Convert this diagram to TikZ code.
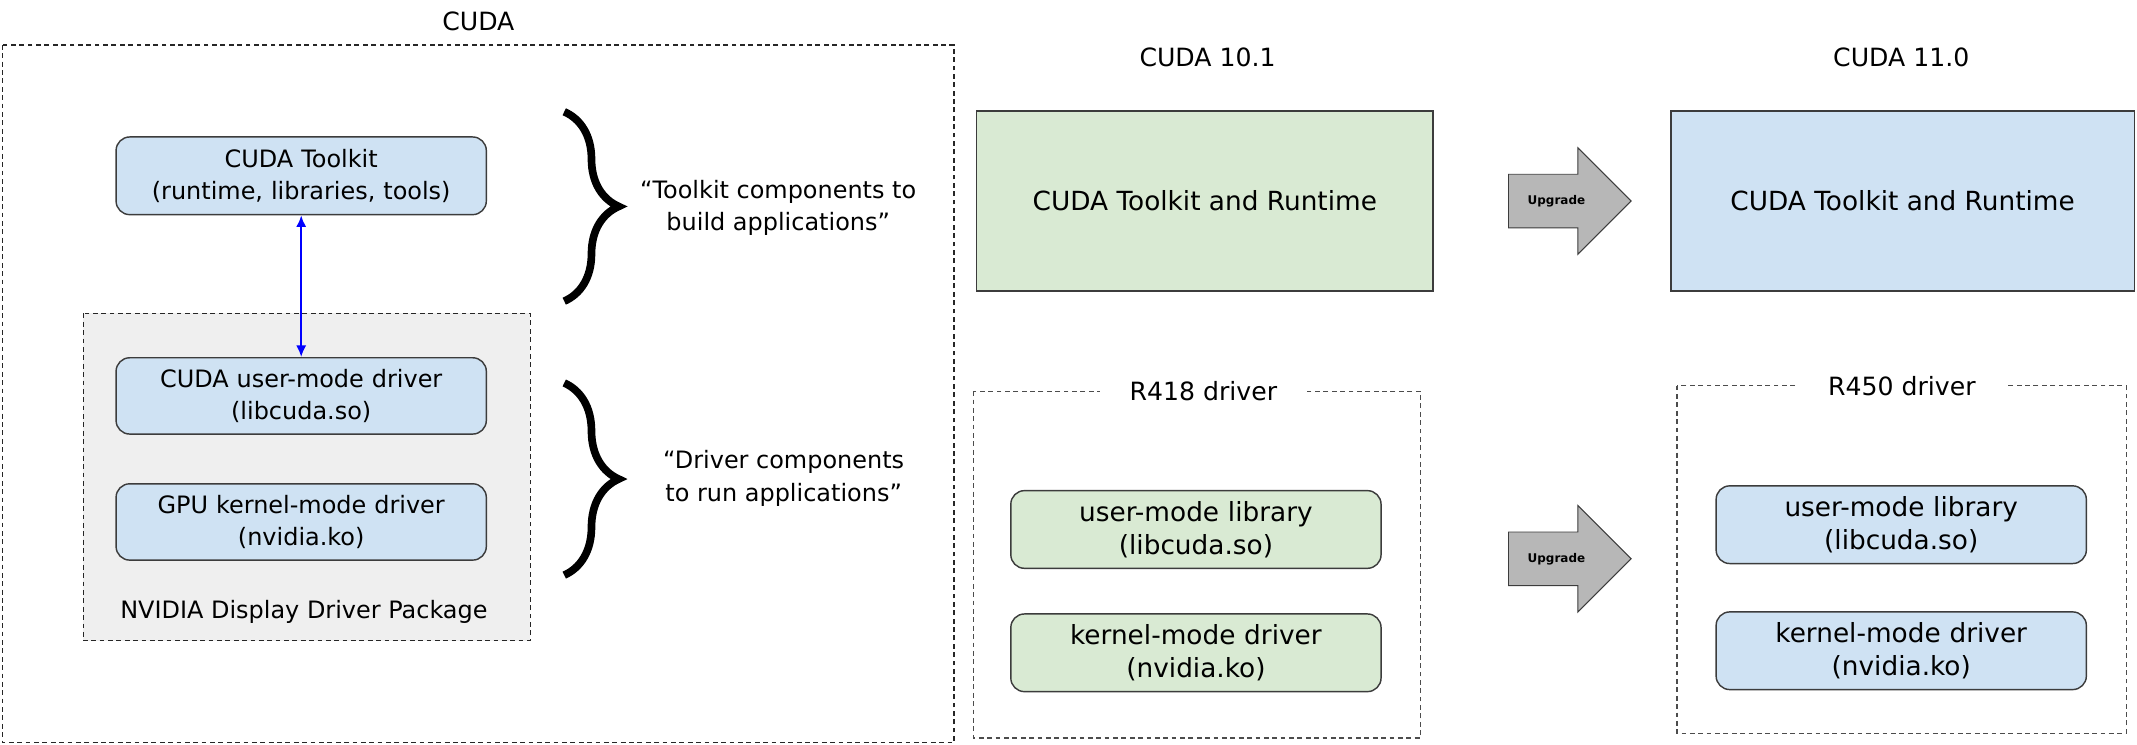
\documentclass[tikz,border=0pt]{standalone}
\usepackage{fontspec}
\setmainfont{DejaVu Sans}
\usetikzlibrary{shapes,arrows,arrows.meta}
\usetikzlibrary{decorations.pathreplacing}
\definecolor{kitblue}{HTML}{CFE2F3}
\definecolor{kitgreen}{HTML}{D9EAD3}
\definecolor{pkggray}{HTML}{EFEFEF}
\definecolor{upgray}{HTML}{B7B7B7}
\definecolor{edge}{HTML}{3C3C3C}
\tikzstyle{block} = [rectangle, draw=edge, line width=0.6pt, fill=kitblue, rounded corners=0.2cm,
    text width=5.2cm, text centered, minimum width=5.4cm, minimum height=1.12cm,
    font=\fontsize{10}{13.5}\selectfont]
\tikzstyle{libblock} = [block, minimum width=5.42cm, minimum height=1.14cm,
    font=\fontsize{11}{13.7}\selectfont]
\tikzstyle{runtime} = [rectangle, draw=edge, line width=0.6pt, minimum width=6.7cm,
    minimum height=2.64cm, font=\fontsize{11}{13}\selectfont]
\tikzstyle{upgrade} = [single arrow, draw=edge, fill=upgray, minimum height=1.8cm,
    single arrow head extend=0.39cm, inner ysep=0.3cm, inner xsep=0.1cm,
    font=\fontsize{5}{6}\selectfont\bfseries]
\tikzstyle{group} = [draw=black!85, dash pattern=on 2pt off 1.5pt, line width=0.5pt]
\tikzstyle{curly} = [draw, decorate, decoration={brace, amplitude=0.8cm}, line width=3.2pt]
\tikzstyle{caption} = [align=center, font=\fontsize{10.5}{13}\selectfont]
\tikzstyle{link} = [draw, {Latex[length=0.17cm, width=0.15cm]}-{Latex[length=0.17cm, width=0.15cm]}, blue, line width=0.9pt]

\begin{document}
\begin{tikzpicture}[x=0.02cm, y=0.02cm, node distance=1.85cm]
    \useasboundingbox (0,0) rectangle (1568,-546);
    % CUDA stack
    \node [caption] (cudatitle) at (351,-16) {CUDA};
    \draw [group] (2,-33) rectangle (700,-545);
    \draw [group, fill=pkggray] (61,-230) rectangle (389,-470);

    \node [block, minimum width=5.28cm, minimum height=1.14cm] (toolkit) at (221,-129) {CUDA Toolkit\\ (runtime, libraries, tools)};
    \node [block] (usermode) at (221,-290.5) {CUDA user-mode driver\\ (libcuda.so)};
    \node [block, below of=usermode] (kernelmode) {GPU kernel-mode driver\\ (nvidia.ko)};
    \node [caption, font=\fontsize{10}{12}\selectfont] (pkglabel) at (223,-449) {NVIDIA Display Driver Package};

    % Braces
    \draw [curly] (414,-82) -- (414,-221);
    \draw [curly] (414,-281) -- (414,-422);
    \node [caption, font=\fontsize{10}{13.5}\selectfont] (buildnote) at (571,-152.5) {“Toolkit components to\\ build applications”};
    \node [caption, font=\fontsize{10}{13.5}\selectfont] (runnote) at (575,-351) {“Driver components\\ to run applications”};

    % CUDA 10.1 -> CUDA 11.0
    \node [caption] (oldtitle) at (886,-42) {CUDA 10.1};
    \node [caption] (newtitle) at (1395,-42) {CUDA 11.0};
    \node [runtime, fill=kitgreen] (oldrt) at (884,-147.5) {CUDA Toolkit and Runtime};
    \node [runtime, fill=kitblue, minimum width=6.8cm] (newrt) at (1396,-147.5) {CUDA Toolkit and Runtime};
    \node [upgrade] (uptop) at (1142,-147.5) {Upgrade};

    \draw [group, draw=black!70] (714.5,-287) rectangle (1042,-541.5);
    \node [caption, fill=white, inner xsep=0.44cm] (oldfw) at (883,-287) {R418 driver};
    \node [libblock, fill=kitgreen] (oldlib) at (877.5,-388.5) {user-mode library\\ (libcuda.so)};
    \node [libblock, fill=kitgreen, below of=oldlib, node distance=1.81cm] (oldkmd) {kernel-mode driver\\ (nvidia.ko)};
    \node [upgrade] (upbottom) at (1142,-410) {Upgrade};

    \draw [group, draw=black!70] (1230.5,-283) rectangle (1560,-538);
    \node [caption, fill=white, inner xsep=0.44cm] (newfw) at (1395.5,-283) {R450 driver};
    \node [libblock] (newlib) at (1395,-385) {user-mode library\\ (libcuda.so)};
    \node [libblock, below of=newlib] (newkmd) {kernel-mode driver\\ (nvidia.ko)};

    % Draw edges
    \path [link] (toolkit) -- (usermode);
\end{tikzpicture}
\end{document}
